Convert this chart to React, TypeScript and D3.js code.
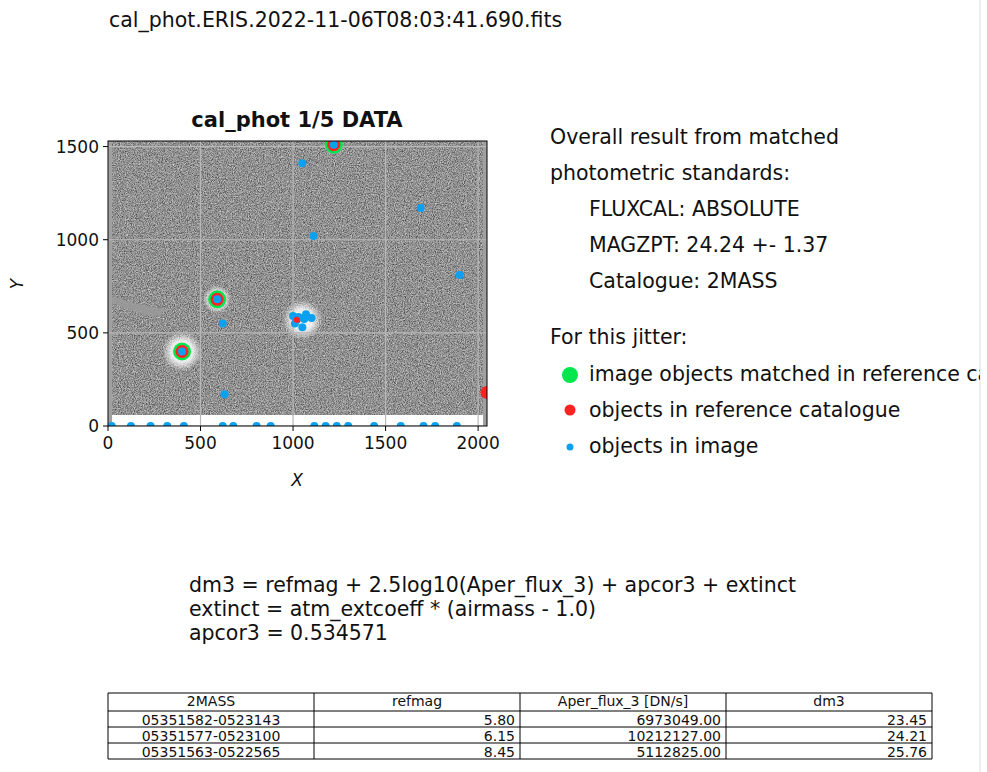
import React from "react";
import * as d3 from "d3";

const imageObjects: [number, number][] = [
  [1050, 1410], [1690, 1170], [1110, 1020], [1900, 810], [620, 550], [630, 170],
  [400, 400], [590, 680], [1220, 1510],
  [1000, 590], [1030, 585], [1060, 575], [1100, 580], [1050, 530], [1010, 550], [1070, 600],
  [20, 0], [124, 0], [230, 0], [320, 0], [410, 0], [620, 0], [677, 0], [803, 0], [879, 0],
  [1115, 0], [1176, 0], [1236, 0], [1298, 0], [1438, 0], [1582, 0], [1705, 0], [1768, 0], [1885, 0],
];
const refObjects: [number, number][] = [[400, 400], [590, 680], [1220, 1510], [1020, 570], [2048, 180]];
const matched: [number, number][] = [[400, 400], [590, 680], [1220, 1510]];
const halos: [number, number, number][] = [[400, 400, 20], [590, 680, 14], [1050, 570, 20], [1220, 1510, 10]];
const xTicks = [0, 500, 1000, 1500, 2000];
const yTicks = [0, 500, 1000, 1500];
const tableHeader = ["2MASS", "refmag", "Aper_flux_3 [DN/s]", "dm3"];
const tableIds = ["05351582-0523143", "05351577-0523100", "05351563-0522565"];
const tableRefmag = ["5.80", "6.15", "8.45"];
const tableFlux = ["6973049.00", "10212127.00", "5112825.00"];
const tableDm3 = ["23.45", "24.21", "25.76"];
const infoLines = ["Overall result from matched", "photometric standards:"];
const infoIndented = ["FLUXCAL: ABSOLUTE", "MAGZPT: 24.24 +- 1.37", "Catalogue: 2MASS"];
const formulaLines = [
  "dm3 = refmag + 2.5log10(Aper_flux_3) + apcor3 + extinct",
  "extinct = atm_extcoeff * (airmass - 1.0)",
  "apcor3 = 0.534571",
];

export default function App() {
  const x = d3.scaleLinear().domain([0, 2048]).range([108, 487]);
  const y = d3.scaleLinear().domain([0, 1530]).range([426, 141]);
  const font = "'DejaVu Sans'";
  const colX = [108, 314, 520, 726, 932];
  const rowY = [693, 711, 727, 743, 759];
  const rows = tableIds.map((id, i) => [id, tableRefmag[i], tableFlux[i], tableDm3[i]]);
  const fs = 20.5;
  return (
    <svg width={987} height={772} style={{ display: "block", position: "absolute", left: 0, top: 0, fontFamily: font }} fill="#111">
      <defs>
        <filter id="noise" x="0" y="0" width="100%" height="100%">
          <feTurbulence type="fractalNoise" baseFrequency="0.93" numOctaves="3" seed="3" result="t" />
          <feColorMatrix type="matrix" values="0 0 0 0 0  0 0 0 0 0  0 0 0 0 0  1.1 0 0 0 -0.38" in="t" result="a" />
          <feComposite in="a" in2="SourceGraphic" operator="in" />
        </filter>
        <filter id="noise2" x="0" y="0" width="100%" height="100%">
          <feTurbulence type="fractalNoise" baseFrequency="0.87" numOctaves="3" seed="9" result="t" />
          <feColorMatrix type="matrix" values="0 0 0 0 1  0 0 0 0 1  0 0 0 0 1  1.2 0 0 0 -0.38" in="t" result="a" />
          <feComposite in="a" in2="SourceGraphic" operator="in" />
        </filter>
        <radialGradient id="halo">
          <stop offset="0%" stopColor="#fff" stopOpacity="1" />
          <stop offset="55%" stopColor="#fff" stopOpacity="0.8" />
          <stop offset="100%" stopColor="#fff" stopOpacity="0" />
        </radialGradient>
        <clipPath id="clip"><rect x={108} y={141} width={379} height={285} /></clipPath>
        <clipPath id="page"><rect x={0} y={0} width={980} height={772} /></clipPath>
      </defs>
      <line x1={980} x2={980} y1={0} y2={772} stroke="#ddd" />
      <text x={109} y={27} fontSize={fs}>cal_phot.ERIS.2022-11-06T08:03:41.690.fits</text>
      <text x={297} y={127} fontSize={21} fontWeight="bold" textAnchor="middle">cal_phot 1/5 DATA</text>
      <g clipPath="url(#clip)">
        <rect x={108} y={141} width={379} height={285} fill="#888" />
        <rect x={108} y={141} width={379} height={285} fill="#000" filter="url(#noise)" />
        <rect x={108} y={141} width={379} height={285} fill="#fff" filter="url(#noise2)" />
        <path d="M110,302 Q140,316 160,316 L165,309 Q150,308 110,296 Z" fill="#9a9a9a" opacity={0.85} />
        <rect x={108} y={415} width={379} height={11} fill="#fff" />
        <rect x={108} y={141} width={4} height={285} fill="#a0a0a0" />
        <rect x={483} y={141} width={4} height={285} fill="#a0a0a0" />
        {halos.map(([a, b, r], i) => <circle key={i} cx={x(a)} cy={y(b)} r={r} fill="url(#halo)" />)}
        {xTicks.map((t) => <line key={t} x1={x(t)} x2={x(t)} y1={141} y2={426} stroke="#b8b8b8" strokeWidth={1.2} />)}
        {yTicks.map((t) => <line key={t} y1={y(t)} y2={y(t)} x1={108} x2={487} stroke="#b8b8b8" strokeWidth={1.2} />)}
        {matched.map(([a, b], i) => <circle key={i} cx={x(a)} cy={y(b)} r={9} fill="#00e64d" />)}
        {refObjects.map(([a, b], i) => <circle key={i} cx={x(a)} cy={y(b)} r={i === 3 ? 4 : 6.5} fill="#ff2222" />)}
        {imageObjects.map(([a, b], i) => <circle key={i} cx={x(a)} cy={y(b)} r={4} fill="#0ca0f0" />)}
        <circle cx={x(1020)} cy={y(570)} r={3} fill="#ff2222" />
      </g>
      <rect x={108} y={141} width={379} height={285} fill="none" stroke="#000" />
      {xTicks.map((t) => (
        <g key={t}>
          <line x1={x(t)} x2={x(t)} y1={426} y2={431} stroke="#000" />
          <text x={x(t)} y={449} fontSize={17} textAnchor="middle">{t}</text>
        </g>
      ))}
      {yTicks.map((t) => (
        <g key={t}>
          <line x1={103} x2={108} y1={y(t)} y2={y(t)} stroke="#000" />
          <text x={99} y={y(t) + 6} fontSize={17} textAnchor="end">{t}</text>
        </g>
      ))}
      <text x={297} y={486} fontSize={17} fontStyle="italic" textAnchor="middle">X</text>
      <text transform="translate(23,284) rotate(-90)" fontSize={17} fontStyle="italic" textAnchor="middle">Y</text>
      <g clipPath="url(#page)">
        {infoLines.map((s, i) => <text key={s} x={550} y={144 + i * 36} fontSize={fs}>{s}</text>)}
        {infoIndented.map((s, i) => <text key={s} x={589} y={216 + i * 36} fontSize={fs}>{s}</text>)}
        <text x={550} y={344} fontSize={fs}>For this jitter:</text>
        <circle cx={570} cy={375} r={8} fill="#00e64d" />
        <text x={589} y={381} fontSize={fs}>image objects matched in reference catalogue</text>
        <circle cx={570} cy={410} r={5.5} fill="#ff2222" />
        <text x={589} y={417} fontSize={fs}>objects in reference catalogue</text>
        <circle cx={570} cy={447} r={3.5} fill="#0ca0f0" />
        <text x={589} y={453} fontSize={fs}>objects in image</text>
      </g>
      {formulaLines.map((s, i) => <text key={s} x={189} y={592 + i * 24} fontSize={fs}>{s}</text>)}
      <g fontSize={14}>
        {colX.map((cx) => <line key={cx} x1={cx} x2={cx} y1={rowY[0]} y2={rowY[4]} stroke="#000" />)}
        {rowY.map((ry) => <line key={ry} x1={108} x2={932} y1={ry} y2={ry} stroke="#000" />)}
        {tableHeader.map((h, j) => <text key={h} x={(colX[j] + colX[j + 1]) / 2} y={706} textAnchor="middle">{h}</text>)}
        {rows.map((r, i) => r.map((c, j) => (
          <text key={i + "-" + j} x={j === 0 ? (colX[0] + colX[1]) / 2 : colX[j + 1] - 5} y={rowY[i + 2] - 2.5}
            textAnchor={j === 0 ? "middle" : "end"}>{c}</text>
        )))}
      </g>
    </svg>
  );
}
